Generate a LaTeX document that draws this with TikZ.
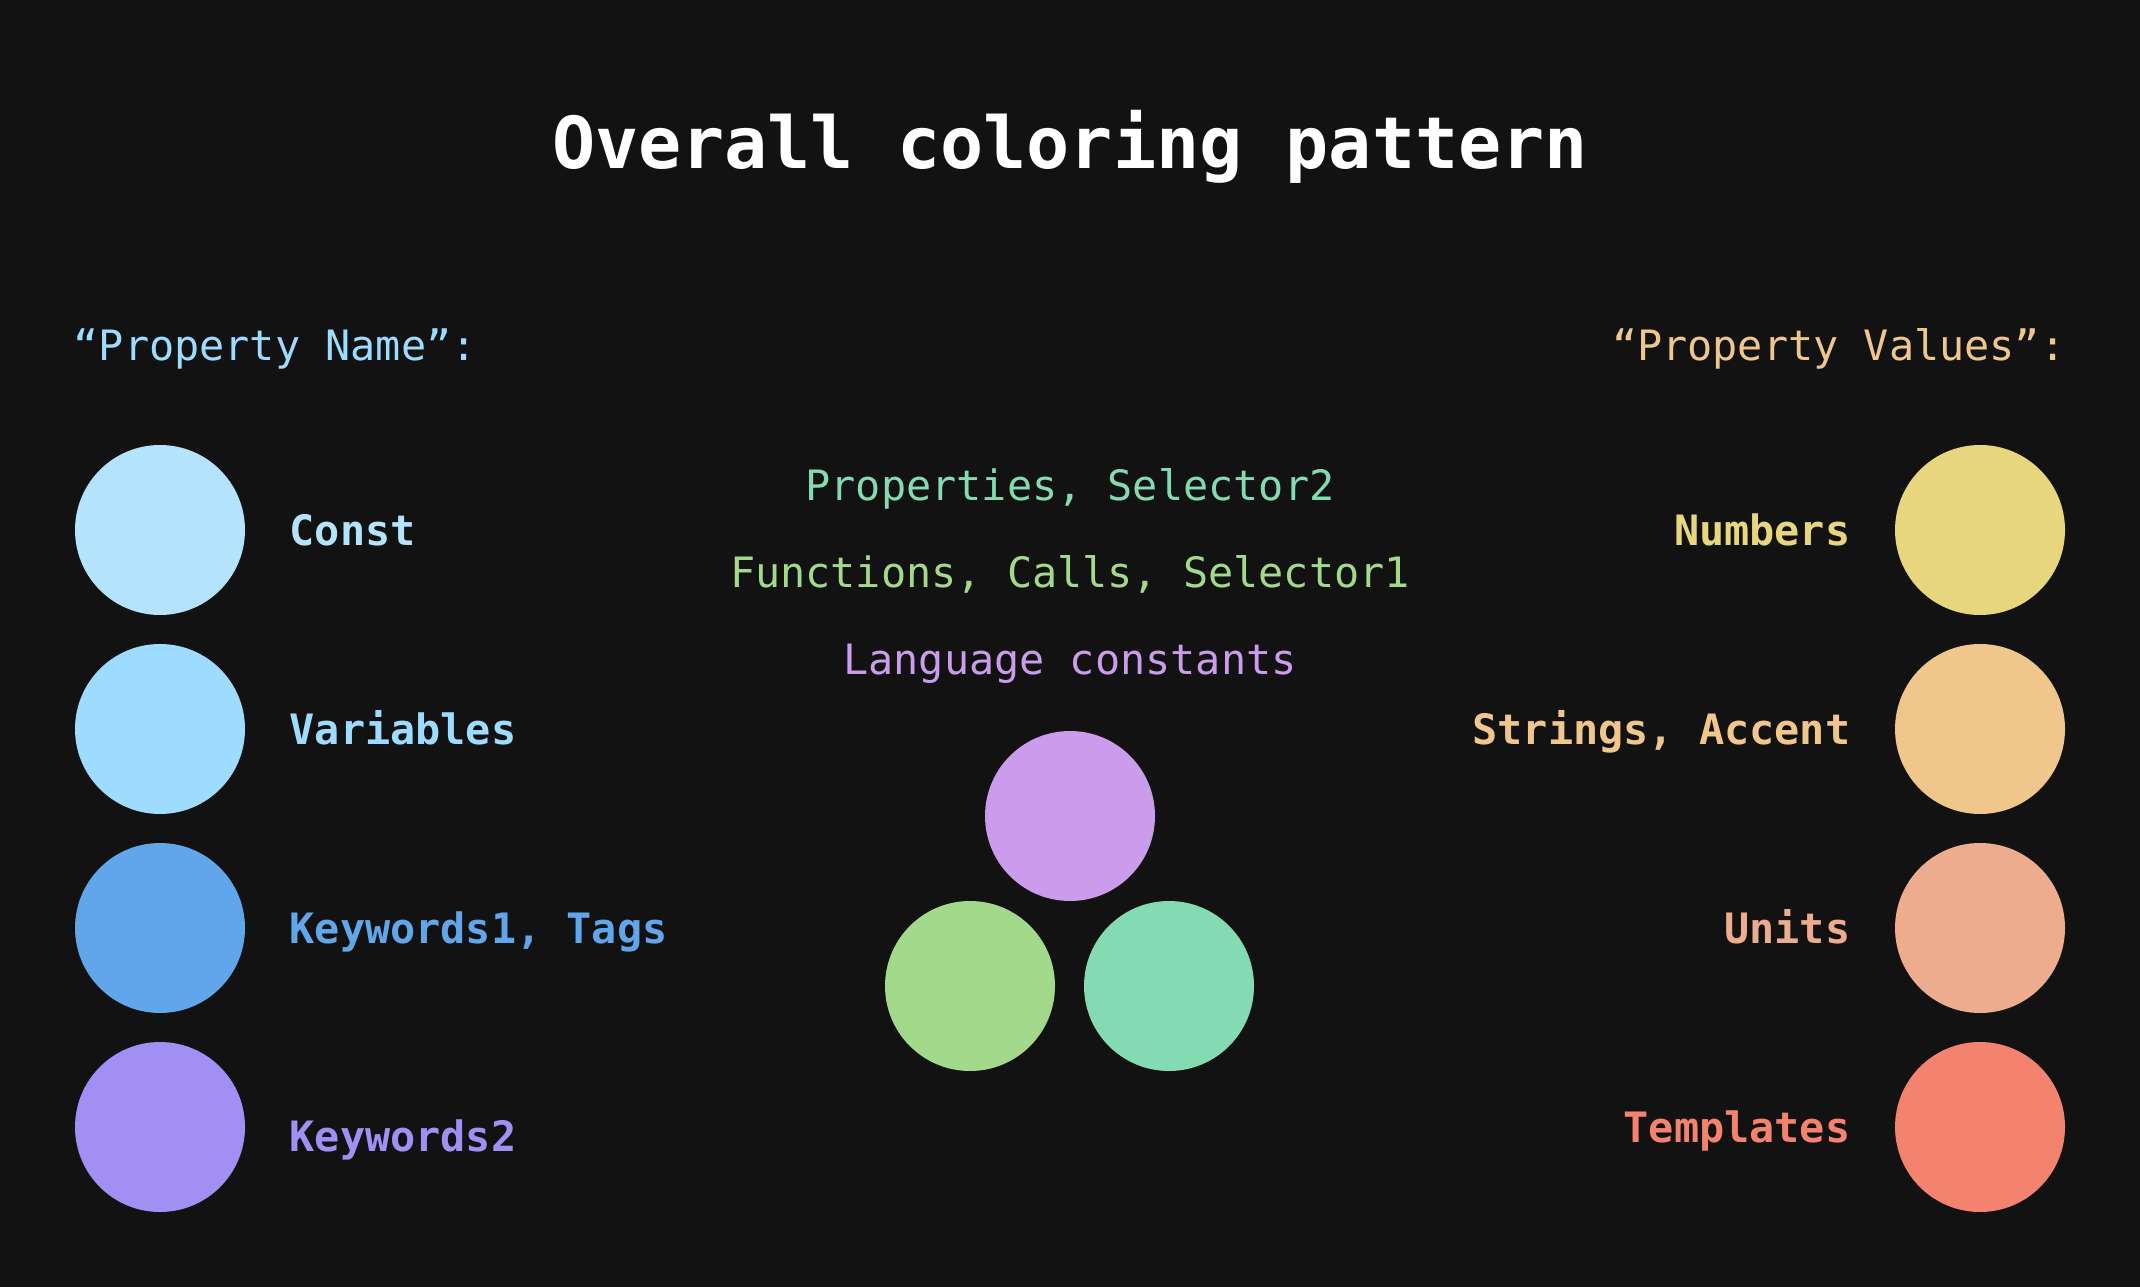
\documentclass[tikz,border=0pt]{standalone}
\usepackage{fontspec}
\newfontfamily\codefont{DejaVu Sans Mono}
\usetikzlibrary{positioning}

\definecolor{bgdark}{HTML}{121212}
\definecolor{constc}{HTML}{B3E3FD}
\definecolor{varc}{HTML}{9DDCFF}
\definecolor{kwonec}{HTML}{61A5EB}
\definecolor{kwtwoc}{HTML}{A18FF3}
\definecolor{propc}{HTML}{84DBB1}
\definecolor{funcc}{HTML}{A3D98A}
\definecolor{langc}{HTML}{CB9CEC}
\definecolor{numc}{HTML}{E7D67E}
\definecolor{strc}{HTML}{EFC68C}
\definecolor{unitc}{HTML}{ECAC8D}
\definecolor{tmplc}{HTML}{F3836E}

\begin{document}
\begin{tikzpicture}[font=\codefont\fontsize{11.9}{14}\selectfont,
  dot/.style={circle, fill=#1, minimum size=1.7cm, inner sep=0pt, outer sep=0pt},
  lbl/.style={text=#1, inner sep=0pt, text height=0.31cm, text depth=0pt,
    font=\codefont\bfseries\fontsize{11.9}{14}\selectfont},
  mid/.style={text=#1, inner sep=0pt, text height=0.31cm, text depth=0pt},
  head/.style={text=#1, inner sep=0pt, text height=0.31cm, text depth=0pt}]
\fill[bgdark] (0,0) rectangle (21.4,12.87);
\useasboundingbox (0,0) rectangle (21.4,12.87);

% title
\node[text=white, inner sep=0pt, text height=0.55cm, text depth=0pt,
  font=\codefont\bfseries\fontsize{20.4}{24}\selectfont] (title) at (10.70,11.46) {Overall coloring pattern};

% headers
\node[head=varc, anchor=west] (hname) at (0.73,9.42) {“Property Name”:};
\node[head=strc, anchor=east] (hvalue) at (20.66,9.42) {“Property Values”:};

% left column
\node[dot=constc] (c1) at (1.60,7.57) {};
\node[dot=varc, below=0.29cm of c1] (c2) {};
\node[dot=kwonec, below=0.29cm of c2] (c3) {};
\node[dot=kwtwoc, below=0.29cm of c3] (c4) {};
\node[lbl=constc, right=0.44cm of c1] (l1) {Const};
\node[lbl=varc, right=0.44cm of c2] (l2) {Variables};
\node[lbl=kwonec, right=0.44cm of c3] (l3) {Keywords1, Tags};
\node[lbl=kwtwoc, right=0.44cm of c4, yshift=-0.09cm] (l4) {Keywords2};

% right column
\node[dot=numc] (v1) at (19.80,7.57) {};
\node[dot=strc, below=0.29cm of v1] (v2) {};
\node[dot=unitc, below=0.29cm of v2] (v3) {};
\node[dot=tmplc, below=0.29cm of v3] (v4) {};
\node[lbl=numc, left=0.44cm of v1] (r1) {Numbers};
\node[lbl=strc, left=0.44cm of v2] (r2) {Strings, Accent};
\node[lbl=unitc, left=0.44cm of v3] (r3) {Units};
\node[lbl=tmplc, left=0.44cm of v4] (r4) {Templates};

% middle
\node[mid=propc] (m1) at (10.70,8.02) {Properties, Selector2};
\node[mid=funcc] (m2) at (10.70,7.15) {Functions, Calls, Selector1};
\node[mid=langc] (m3) at (10.70,6.28) {Language constants};
\node[dot=langc] (lang) at (10.70,4.71) {};
\node[dot=funcc] (func) at (9.70,3.01) {};
\node[dot=propc] (prop) at (11.69,3.01) {};
\end{tikzpicture}
\end{document}
